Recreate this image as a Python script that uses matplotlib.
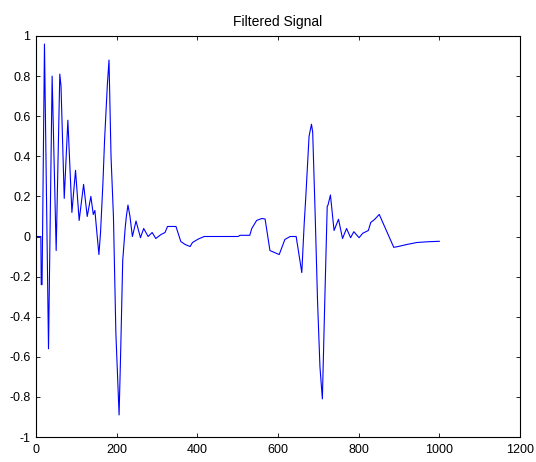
import matplotlib
matplotlib.use('Agg')
import matplotlib.pyplot as plt

# Sample index and filtered amplitude, traced point by point
sample = [0, 12, 13, 15, 21, 31, 40, 50, 59, 62, 70, 79, 89, 98, 107, 118, 127, 136,
          142, 146, 150, 156, 160, 166, 170, 177, 181, 186, 192, 198, 206, 210, 215,
          221, 224, 228, 233, 239, 248, 259, 267, 278, 288, 297, 310, 320, 326, 347,
          359, 370, 382, 388, 402, 417, 501, 506, 530, 535, 547, 560, 568, 580, 603,
          617, 630, 645, 659, 665, 669, 677, 683, 686, 692, 698, 704, 710, 716, 722,
          724, 730, 739, 750, 760, 770, 780, 788, 801, 810, 824, 830, 840, 851, 887,
          898, 919, 944, 973, 1000]
amplitude = [0, 0, -0.24, -0.24, 0.96, -0.56, 0.80, -0.07, 0.81, 0.75, 0.19, 0.58, 0.12,
             0.33, 0.08, 0.26, 0.10, 0.20, 0.11, 0.13, 0.04, -0.09, 0.02, 0.27, 0.48,
             0.76, 0.88, 0.40, 0.10, -0.48, -0.89, -0.57, -0.12, 0.04, 0.10, 0.157,
             0.10, 0.0, 0.077, -0.006, 0.04, 0.0, 0.02, -0.01, 0.01, 0.02, 0.05, 0.05,
             -0.025, -0.04, -0.05, -0.03, -0.013, 0.0, 0.0, 0.006, 0.006, 0.04, 0.08,
             0.09, 0.087, -0.07, -0.09, -0.015, 0.0, 0.0, -0.18, 0.066, 0.2, 0.5, 0.56,
             0.52, 0.12, -0.32, -0.65, -0.81, -0.32, 0.15, 0.157, 0.207, 0.03, 0.086,
             -0.01, 0.04, -0.006, 0.024, -0.006, 0.016, 0.03, 0.07, 0.086, 0.11, -0.054,
             -0.05, -0.04, -0.03, -0.026, -0.024]

xticks = [0, 200, 400, 600, 800, 1000, 1200]
yticks = [-1, -0.8, -0.6, -0.4, -0.2, 0, 0.2, 0.4, 0.6, 0.8, 1]
ylabels = ['-1', '-0.8', '-0.6', '-0.4', '-0.2', '0', '0.2', '0.4', '0.6', '0.8', '1']

plt.rcParams['font.family'] = ['Liberation Sans', 'DejaVu Sans']
plt.rcParams['font.size'] = 9
plt.rcParams['axes.unicode_minus'] = False

fig = plt.figure(figsize=(5.36, 4.62), dpi=100)
ax = fig.add_axes([36 / 536, 25 / 462, 484 / 536, 401 / 462])

ax.plot(sample, amplitude, color=(0, 0, 1), linewidth=0.8)

ax.set_xlim(0, 1200)
ax.set_ylim(-1, 1)
ax.set_xticks(xticks)
ax.set_yticks(yticks)
ax.set_yticklabels(ylabels)
ax.tick_params(direction='in', length=3, width=0.6, top=True, right=True, labelsize=9)
ax.tick_params(axis='x', pad=5)
ax.tick_params(axis='y', pad=4)
for spine in ax.spines.values():
    spine.set_linewidth(0.8)

ax.set_title('Filtered Signal', fontsize=10, pad=7)

fig.savefig('out.png', dpi=100)
